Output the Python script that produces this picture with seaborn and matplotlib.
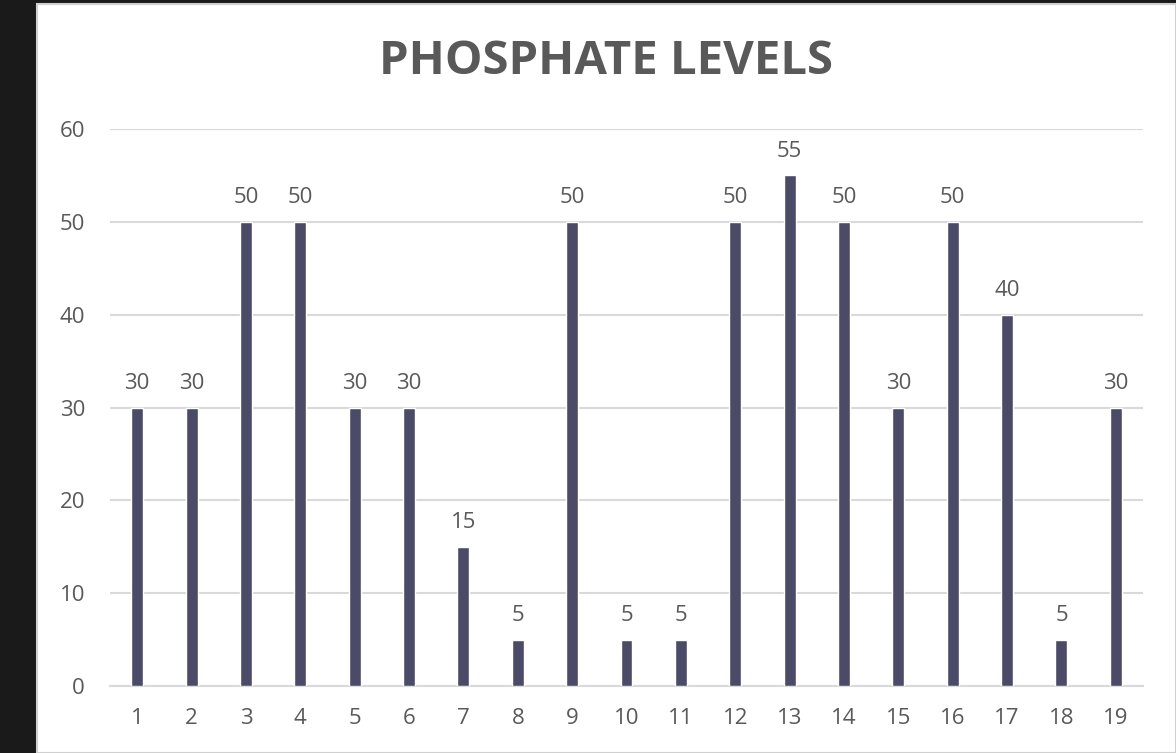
import matplotlib.pyplot as plt
import matplotlib.patches as mpatches
import pandas as pd
import seaborn as sns

samples = [str(i) for i in range(1, 20)]
phosphate = [30, 30, 50, 50, 30, 30, 15, 5, 50, 5, 5, 50, 55, 50, 30, 50, 40, 5, 30]
y_ticks = [0, 10, 20, 30, 40, 50, 60]

BAR_COLOR = "#4b4b68"
TEXT_COLOR = "#595959"
GRID_COLOR = "#d9d9d9"

df = pd.DataFrame({"sample": samples, "level": phosphate})

sns.set_theme(style="white")
plt.rcParams["font.family"] = ["Open Sans", "DejaVu Sans"]

fig = plt.figure(figsize=(11.76, 7.53), dpi=100)
fig.patch.set_facecolor("#1a1a1a")
panel = mpatches.Rectangle((37 / 1176, 0), 1 - 37 / 1176, 1 - 4 / 753,
                           transform=fig.transFigure, facecolor="white",
                           edgecolor="#d0d0d0", linewidth=1.5, zorder=-10)
fig.patches.append(panel)

ax = fig.add_axes([110 / 1176, 1 - 686 / 753, (1143 - 110) / 1176, (686 - 129) / 753])
ax.set_facecolor("none")
ax.set_zorder(5)

sns.barplot(data=df, x="sample", y="level", color=BAR_COLOR, width=0.22,
            saturation=1, ax=ax, zorder=3)

ax.set_ylim(0, 60)
ax.set_xlim(-0.5, len(samples) - 0.5)
ax.set_yticks(y_ticks)
ax.yaxis.grid(True, color=GRID_COLOR, linewidth=1.5)
ax.set_axisbelow(True)
for side in ["top", "right", "left"]:
    ax.spines[side].set_visible(False)
ax.spines["bottom"].set_color(GRID_COLOR)
ax.spines["bottom"].set_linewidth(1.5)
ax.tick_params(axis="both", length=0, labelsize=16, labelcolor=TEXT_COLOR)
ax.tick_params(axis="y", pad=18)
ax.tick_params(axis="x", pad=16)
ax.set_xlabel("")
ax.set_ylabel("")

for container in ax.containers:
    ax.bar_label(container, padding=10, fontsize=16, color=TEXT_COLOR)

fig.text(606 / 1176, 1 - 62 / 753, "PHOSPHATE LEVELS", ha="center", va="center",
         fontsize=34, fontweight="bold", color=TEXT_COLOR, zorder=6)

fig.savefig("out.png", dpi=100, facecolor=fig.get_facecolor())
